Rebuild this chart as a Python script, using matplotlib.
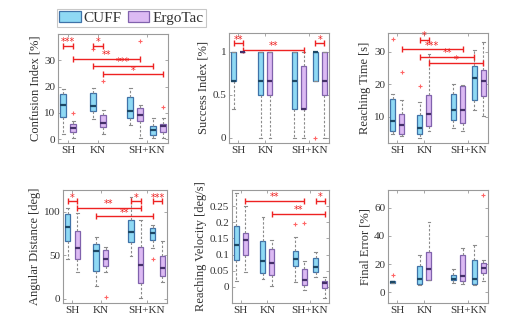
import matplotlib
matplotlib.use("Agg")
import matplotlib.pyplot as plt
from matplotlib.patches import Patch
from matplotlib.ticker import FuncFormatter

plt.rcParams['font.family'] = ['Liberation Serif', 'DejaVu Serif']

# ---------------- data ----------------
groups = ['SH', 'KN', 'SH+KN']
series = ['CUFF', 'ErgoTac']
# box order: SH-CUFF, SH-Ergo, KN-CUFF, KN-Ergo, SH+KN CUFF, SH+KN Ergo, SH+KN CUFF, SH+KN Ergo
box_series = [0, 1, 0, 1, 0, 1, 0, 1]

# each box: [whisker low, q1, median, q3, whisker high]
confusion_stats = [[2.0, 8.3, 13.0, 17.0, 19.0], [0.4, 2.8, 4.3, 5.8, 7.0],
                   [7.5, 10.8, 12.5, 17.6, 19.6], [2.0, 4.6, 6.1, 9.1, 11.1],
                   [5.5, 8.0, 10.6, 15.9, 19.6], [0.3, 6.8, 9.3, 11.8, 13.1],
                   [0.4, 1.6, 3.3, 5.0, 8.0], [0.4, 2.8, 4.8, 5.8, 8.0]]
confusion_fliers = [[], [9.9], [34.2], [22.0], [], [37.3], [], [12.2]]
confusion_sig = [(0, 1, 35.5, '***'), (2, 3, 35.5, '*'), (1, 5, 30.6, '**'),
                 (2, 6, 28.0, '***'), (3, 7, 24.8, '*')]

success_stats = [[0.333, 0.667, 0.667, 1, 1], [1, 1, 1, 1, 1],
                 [0, 0.5, 0.667, 1, 1], [0, 0.5, 0.667, 1, 1],
                 [0, 0.333, 0.667, 1, 1], [0, 0.333, 0.333, 0.833, 1],
                 [0.667, 0.667, 1, 1, 1], [0, 0.5, 0.667, 1, 1]]
success_fliers = [[], [], [], [], [], [], [0.0], []]
success_sig = [(0, 1, 1.105, '**'), (1, 5, 1.027, '**'), (6, 7, 1.105, '*')]

time_stats = [[4.9, 5.7, 8.8, 15.4, 17.2], [4.0, 4.8, 7.5, 11.0, 15.2],
              [3.6, 4.8, 6.5, 10.5, 14.7], [5.7, 7.2, 10.8, 16.9, 29.3],
              [6.7, 9.1, 12.0, 17.1, 20.1], [5.7, 8.0, 12.0, 19.6, 19.8],
              [12.0, 15.2, 22.0, 25.8, 30.7], [10.4, 16.5, 21.2, 24.3, 33.0]]
time_fliers = [[33.9], [23.8], [19.4], [], [], [], [], []]
time_sig = [(2, 3, 33.8, '*'), (1, 5, 30.9, '***'), (2, 6, 28.5, '**'),
            (3, 7, 26.6, '*')]

angle_stats = [[46, 66.6, 82.9, 97, 103.9], [31.5, 45.7, 58.2, 78, 98.2],
               [15.2, 32.6, 55.5, 63.1, 70.8], [30.8, 38, 46, 56.3, 60],
               [49.8, 65.8, 76.5, 90.5, 117], [1.1, 18.3, 39.2, 59.4, 90.5],
               [58.2, 67.3, 76, 81.7, 84.8], [19.5, 26, 35.4, 49.8, 66.6]]
angle_fliers = [[], [], [], [2.6], [], [], [46], []]
angle_sig = [(0, 1, 112.2, '*'), (1, 5, 104.6, '**'), (4, 5, 112.2, '*'),
             (2, 6, 95.0, '**'), (6, 7, 112.2, '***')]

velocity_stats = [[0.019, 0.084, 0.131, 0.189, 0.29], [0.047, 0.099, 0.144, 0.168, 0.25],
                  [0.024, 0.042, 0.081, 0.142, 0.217], [0.002, 0.0375, 0.075, 0.116, 0.146],
                  [0.0135, 0.066, 0.085, 0.1125, 0.154], [-0.01, 0.005, 0.022, 0.055, 0.079],
                  [0.029, 0.045, 0.06, 0.0896, 0.109], [-0.033, -0.004, 0.0115, 0.019, 0.031]]
velocity_fliers = [[], [], [], [], [0.194], [0.198], [], []]
velocity_sig = [(1, 5, 0.267, '**'), (6, 7, 0.267, '*'), (3, 7, 0.227, '**')]

error_stats = [[6.5, 6.6, 7.4, 8.3, 8.4], None,
               [5.0, 5.9, 9.7, 19.0, 26.8], [8.5, 9.0, 16.4, 28.7, 50.0],
               [6.4, 8.5, 9.5, 12.6, 16.8], [5.9, 8.1, 11.4, 26.6, 31.1],
               [5.5, 5.9, 9.7, 23.0, 33.9], [7.8, 13.8, 17.3, 20.9, 23.2]]
error_fliers = [[12.0], [], [], [], [], [], [], [68.8]]
error_sig = []

panels = [
    ('Confusion Index [%]', confusion_stats, confusion_fliers, confusion_sig, (-1.5, 40), [0, 10, 20, 30]),
    ('Success Index [%]', success_stats, success_fliers, success_sig, (-0.06, 1.22), [0, 0.5, 1]),
    ('Reaching Time [s]', time_stats, time_fliers, time_sig, (2.0, 35.8), [10, 20, 30]),
    ('Angular Distance [deg]', angle_stats, angle_fliers, angle_sig, (-4.6, 125), [0, 50, 100]),
    ('Reaching Velocity [deg/s]', velocity_stats, velocity_fliers, velocity_sig, (-0.05, 0.30),
     [0, 0.05, 0.1, 0.15, 0.2, 0.25]),
    ('Final Error [%]', error_stats, error_fliers, error_sig, (-7.5, 72.5), [0, 20, 40, 60]),
]

# ---------------- layout / style ----------------
positions = [1, 2, 4, 5, 7.7, 8.7, 10, 11]
group_ticks = [1.5, 4.5, 9.35]
W, H = 515, 322
rects_px = [(58, 168, 34, 143), (229, 329, 33, 143), (388, 488, 33, 143),
            (63, 167, 190, 303), (232, 329, 190, 303), (388, 488, 190, 303)]

face = ['#8fd9f4', '#dcbaf3']
edge = ['#3f72a8', '#8062ad']
medc = ['#1d4866', '#45306a']
whisk_c = '#8c8c8c'
spine_c = '#9a9a9a'
text_c = '#333333'
red = '#ee2222'

fig = plt.figure(figsize=(W / 100, H / 100), dpi=100)

for k, (label, stats, fliers, sig, ylim, yticks) in enumerate(panels):
    l, r, t, b = rects_px[k]
    ax = fig.add_axes([l / W, 1 - b / H, (r - l) / W, (b - t) / H])
    bstats, bpos, bser = [], [], []
    for i, s in enumerate(stats):
        if s is None:
            continue
        bstats.append(dict(whislo=s[0], q1=s[1], med=s[2], q3=s[3], whishi=s[4],
                           fliers=fliers[i]))
        bpos.append(positions[i])
        bser.append(box_series[i])
    art = ax.bxp(bstats, positions=bpos, widths=0.55, patch_artist=True,
                 showfliers=True, capwidths=0.3,
                 whiskerprops=dict(color=whisk_c, linestyle=(0, (2.2, 1.6)), linewidth=0.8),
                 capprops=dict(color=whisk_c, linewidth=0.8),
                 flierprops=dict(marker='+', markeredgecolor='#ff4a4a', markersize=3.5,
                                 markeredgewidth=0.8, alpha=0.85))
    for j, sr in enumerate(bser):
        art['boxes'][j].set_facecolor(face[sr])
        art['boxes'][j].set_edgecolor(edge[sr])
        art['boxes'][j].set_linewidth(0.9)
        art['medians'][j].set_color(medc[sr])
        art['medians'][j].set_linewidth(1.6)

    # significance brackets
    for (i, j, yv, stars) in sig:
        x1, x2 = positions[i], positions[j]
        ax.plot([x1, x2], [yv, yv], color=red, lw=1.0, marker='|', markersize=5,
                markeredgewidth=1.0, solid_capstyle='butt', clip_on=False)
        ax.annotate(stars, xy=((x1 + x2) / 2, yv), xytext=(0, -1.2), textcoords='offset points',
                    ha='center', va='bottom', color=red, fontsize=7,
                    family=['DejaVu Sans'])

    ax.set_xlim(0.5, 11.5)
    ax.set_ylim(*ylim)
    ax.set_xticks(group_ticks)
    ax.set_xticklabels(groups)
    ax.set_yticks(yticks)
    ax.yaxis.set_major_formatter(FuncFormatter(lambda v, p: f'{v:g}'))
    ax.tick_params(direction='in', length=2, width=0.6, top=True, right=True,
                   colors=spine_c, labelcolor=text_c, labelsize=8, pad=2)
    for sp in ax.spines.values():
        sp.set_color(spine_c)
        sp.set_linewidth(0.8)
    ax.set_ylabel(label, fontsize=9, color=text_c, labelpad=2)

    if k == 0:
        handles = [Patch(facecolor=face[0], edgecolor=edge[0], lw=0.9),
                   Patch(facecolor=face[1], edgecolor=edge[1], lw=0.9)]
        leg = ax.legend(handles, series, loc='lower left', bbox_to_anchor=(-0.01, 1.06),
                        ncol=2, frameon=True, fancybox=False, fontsize=11,
                        borderpad=0.15, handlelength=1.4, handleheight=0.7,
                        handletextpad=0.2, columnspacing=0.4, borderaxespad=0)
        leg.get_frame().set_edgecolor('#bbbbbb')
        leg.get_frame().set_linewidth(0.8)
        for tx in leg.get_texts():
            tx.set_color(text_c)

fig.savefig('out.png', dpi=100)
